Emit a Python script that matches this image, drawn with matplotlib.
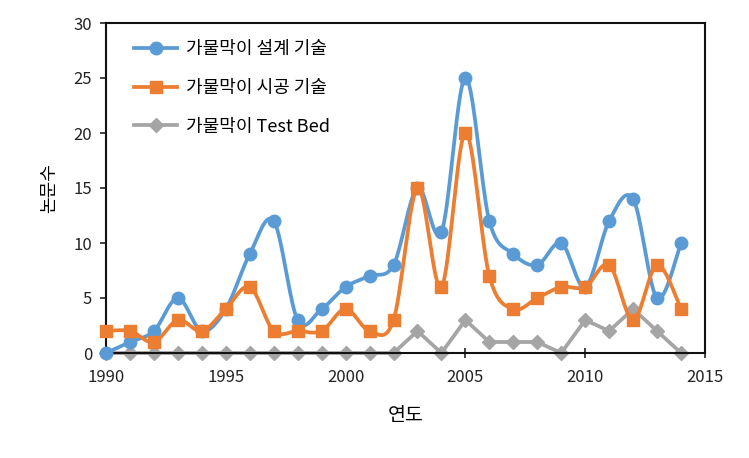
import numpy as np
import matplotlib.pyplot as plt

plt.rcParams['font.family'] = ['Noto Sans CJK KR', 'DejaVu Sans']

years = list(range(1990, 2015))
design = [0, 1, 2, 5, 2, 4, 9, 12, 3, 4, 6, 7, 8, 15, 11, 25, 12, 9, 8, 10, 6, 12, 14, 5, 10]
construct = [2, 2, 1, 3, 2, 4, 6, 2, 2, 2, 4, 2, 3, 15, 6, 20, 7, 4, 5, 6, 6, 8, 3, 8, 4]
testbed = [0, 0, 0, 0, 0, 0, 0, 0, 0, 0, 0, 0, 0, 2, 0, 3, 1, 1, 1, 0, 3, 2, 4, 2, 0]

labels = ["가물막이 설계 기술", "가물막이 시공 기술", "가물막이 Test Bed"]
colors = ["#5B9BD5", "#ED7D31", "#A5A5A5"]


def smooth(x, y, n=20):
    # Excel-like smoothed line: cubic bezier through points
    x = np.asarray(x, float)
    y = np.asarray(y, float)
    p = np.column_stack([x, y])
    out = []
    t = np.linspace(0, 1, n)[:, None]
    for i in range(len(p) - 1):
        p0 = p[i - 1] if i > 0 else p[i]
        p3 = p[i + 2] if i + 2 < len(p) else p[i + 1]
        c1 = p[i] + (p[i + 1] - p0) / 6
        c2 = p[i + 1] - (p3 - p[i]) / 6
        seg = ((1 - t) ** 3) * p[i] + 3 * ((1 - t) ** 2) * t * c1 \
            + 3 * (1 - t) * t ** 2 * c2 + t ** 3 * p[i + 1]
        out.append(seg if i == 0 else seg[1:])
    out = np.vstack(out)
    return out[:, 0], out[:, 1]


fig = plt.figure(figsize=(7.49, 4.58), dpi=100)
ax = fig.add_axes([106 / 749, 1 - 353 / 458, 599 / 749, 330 / 458])

lw = 2.7
sx, sy = smooth(years, design)
ax.plot(sx, sy, color=colors[0], lw=lw, clip_on=False, zorder=3)
ax.plot(years, design, 'o', color=colors[0], ms=9, clip_on=False, zorder=4)
ax.plot([], [], '-o', color=colors[0], lw=lw, ms=9, label=labels[0])

sx, sy = smooth(years, construct)
ax.plot(sx, sy, color=colors[1], lw=lw, clip_on=False, zorder=3)
ax.plot(years, construct, 's', color=colors[1], ms=9, clip_on=False, zorder=4)
ax.plot([], [], '-s', color=colors[1], lw=lw, ms=9, label=labels[1])

ax.plot(years, testbed, '-D', color=colors[2], lw=lw, ms=7.5, clip_on=False,
        zorder=2, label=labels[2])

ax.set_xlim(1990, 2015)
ax.set_ylim(0, 30)
ax.set_xticks(range(1990, 2016, 5))
ax.set_yticks(range(0, 31, 5))
ax.tick_params(axis='both', labelsize=12, colors='#222222', length=4, width=1.2)
ax.tick_params(axis='y', pad=6)
ax.tick_params(axis='x', direction='inout', length=7, pad=8)
for s in ax.spines.values():
    s.set_color('#111111')
    s.set_linewidth(1.5)

ax.set_xlabel("연도", fontsize=14, labelpad=14)
ax.set_ylabel("논문수", fontsize=13, labelpad=11)

leg = ax.legend(loc='upper left', frameon=False, fontsize=13, handlelength=2.4,
                handletextpad=0.5, labelspacing=1.15, borderaxespad=0.55,
                bbox_to_anchor=(0.018, 1.0))

fig.savefig("out.png", dpi=100)
